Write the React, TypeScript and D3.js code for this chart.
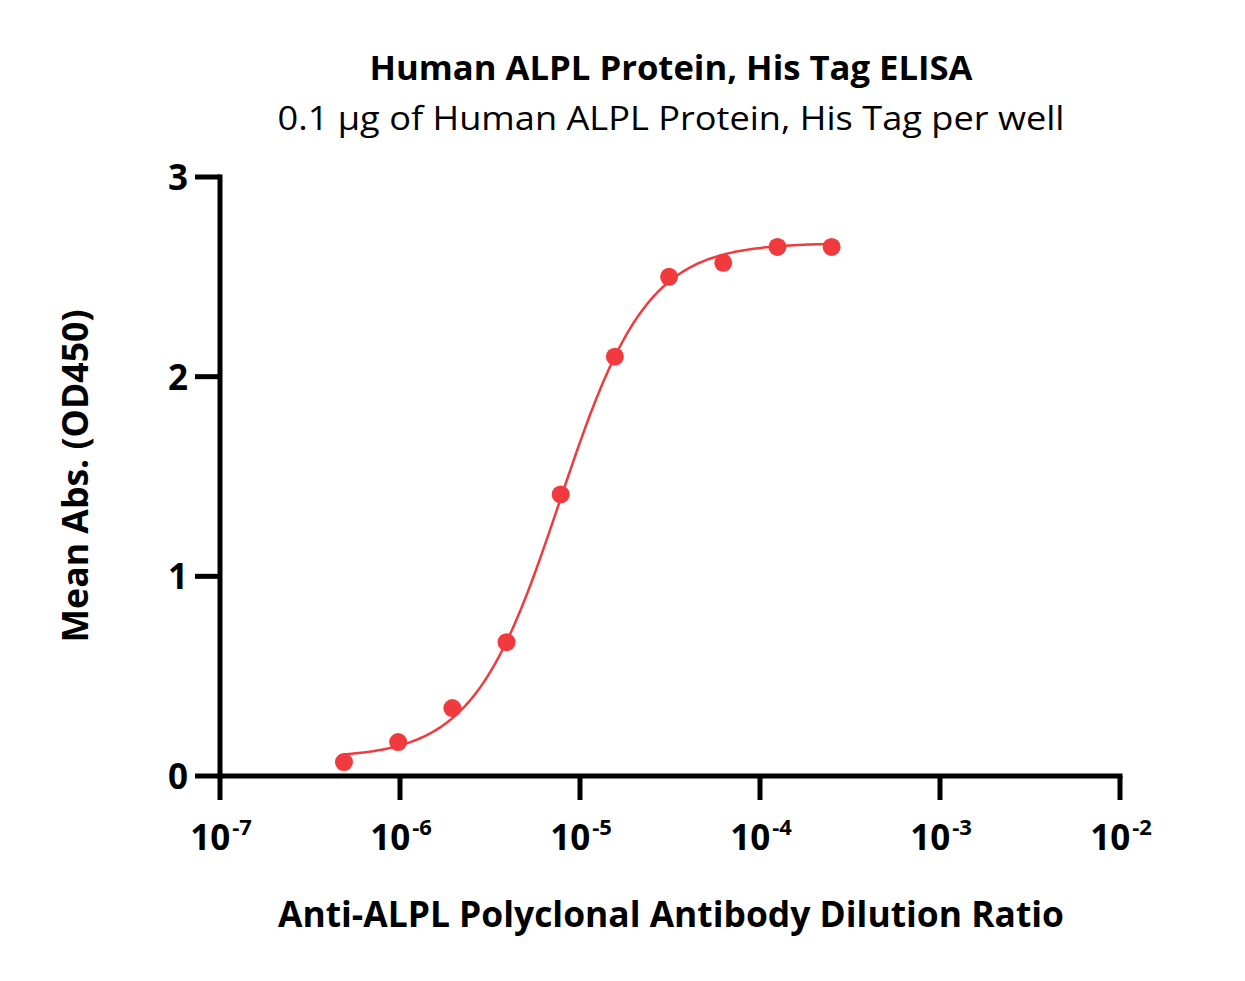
import React from "react";
import * as d3 from "d3";

const dilutions = [1/2048000, 1/1024000, 1/512000, 1/256000, 1/128000, 1/64000, 1/32000, 1/16000, 1/8000, 1/4000];
const meanAbs = [0.07, 0.17, 0.34, 0.67, 1.41, 2.10, 2.50, 2.57, 2.65, 2.65];
const xTickExps = [-7, -6, -5, -4, -3, -2];
const yTicks = [0, 1, 2, 3];
// 4PL fit parameters (bottom, top, logEC50, hill)
const fitParams = { bottom: 0.09, top: 2.67, logEC50: -5.111, hill: 1.8 };

const title = "Human ALPL Protein, His Tag ELISA";
const subtitle = "0.1 µg of Human ALPL Protein, His Tag per well";
const xTitle = "Anti-ALPL Polyclonal Antibody  Dilution Ratio";
const yTitle = "Mean Abs. (OD450)";

const W = 1245, H = 981;
const left = 220, right = 1120, top = 177, bottom = 776;
const RED = "#F13A3E";
const FONT = "'Open Sans', 'Noto Sans', sans-serif";

export default function App() {
  const x = d3.scaleLog().domain([1e-7, 1e-2]).range([left, right]);
  const y = d3.scaleLinear().domain([0, 3]).range([bottom, top]);
  const f = (lx: number) =>
    fitParams.bottom + (fitParams.top - fitParams.bottom) / (1 + Math.pow(10, (fitParams.logEC50 - lx) * fitParams.hill));
  const lo = Math.log10(dilutions[0]), hi = Math.log10(dilutions[dilutions.length - 1]);
  const curvePts = d3.range(0, 201).map(i => {
    const lx = lo + (hi - lo) * i / 200;
    return [x(Math.pow(10, lx)), y(f(lx))] as [number, number];
  });
  const line = d3.line().curve(d3.curveLinear);

  return (
    <svg width={W} height={H} style={{ position: "absolute", left: 0, top: 0, background: "#fff" }} fontFamily={FONT}>
      <rect width={W} height={H} fill="#fff" />
      <text x={671} y={80} textAnchor="middle" fontSize={34} fontWeight="bold" textLength={603} lengthAdjust="spacingAndGlyphs">{title}</text>
      <text x={671} y={130} textAnchor="middle" fontSize={33} textLength={787} lengthAdjust="spacingAndGlyphs">{subtitle}</text>

      {/* axes */}
      <line x1={left} x2={left} y1={top - 2.5} y2={bottom + 2.5} stroke="#000" strokeWidth={5} />
      <line x1={left - 2.5} x2={right + 2.5} y1={bottom} y2={bottom} stroke="#000" strokeWidth={5} />
      {yTicks.map(t => (
        <g key={t}>
          <line x1={left - 25} x2={left} y1={y(t)} y2={y(t)} stroke="#000" strokeWidth={5} />
          <text x={left - 32} y={y(t) + 13} textAnchor="end" fontSize={35} fontWeight="bold">{t}</text>
        </g>
      ))}
      {xTickExps.map(e => (
        <g key={e}>
          <line x1={x(Math.pow(10, e))} x2={x(Math.pow(10, e))} y1={bottom} y2={bottom + 24} stroke="#000" strokeWidth={5} />
          <text x={x(Math.pow(10, e)) + 1} y={850} textAnchor="middle" fontSize={35} fontWeight="bold">
            10<tspan dx={2} dy={-15} fontSize={22}>{e}</tspan>
          </text>
        </g>
      ))}

      <text x={671} y={927} textAnchor="middle" fontSize={36} fontWeight="bold" textLength={786} lengthAdjust="spacingAndGlyphs">{xTitle}</text>
      <text transform={`translate(88,476) rotate(-90)`} textAnchor="middle" fontSize={36} fontWeight="bold" textLength={333} lengthAdjust="spacingAndGlyphs">{yTitle}</text>

      <path d={line(curvePts) || ""} fill="none" stroke={RED} strokeWidth={2.5} />
      {dilutions.map((d, i) => (
        <circle key={i} cx={x(d)} cy={y(meanAbs[i])} r={9} fill={RED} />
      ))}
    </svg>
  );
}
